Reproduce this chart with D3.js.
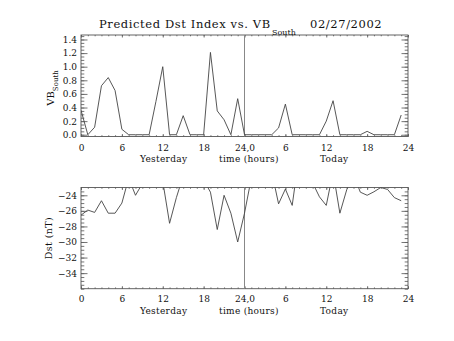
<!DOCTYPE html>
<html>
<head>
<meta charset="utf-8">
<script src="https://cdn.jsdelivr.net/npm/d3@7"></script>
<style>
  html, body { margin: 0; padding: 0; background: #fff; }
  svg { display: block; }
  text { font-family: "DejaVu Serif", serif; fill: #111; }
</style>
</head>
<body>
<script>
// ---------------- data ----------------
const hours = d3.range(0, 48);
const vbSouth = [0.36, 0.00, 0.11, 0.72, 0.84, 0.65, 0.08, 0.00, 0.00, 0.00, 0.00, 0.49,
                 1.00, 0.00, 0.00, 0.28, 0.00, 0.00, 0.00, 1.21, 0.35, 0.22, 0.00, 0.53,
                 0.00, 0.00, 0.00, 0.00, 0.00, 0.10, 0.45, 0.00, 0.00, 0.00, 0.00, 0.00,
                 0.20, 0.50, 0.00, 0.00, 0.00, 0.00, 0.05, 0.00, 0.00, 0.00, 0.00, 0.29];
const dst = [-26.55, -25.9, -26.2, -24.7, -26.3, -26.3, -25.0, -21.8, -24.0, -22.5, -21.5, -21.5,
             -22.2, -27.6, -24.3, -21.5, -21.5, -21.5, -22.0, -23.6, -28.4, -24.0, -26.3, -30.0,
             -26.3, -21.8, -21.5, -21.5, -21.0, -25.1, -23.2, -25.3, -19.0, -21.5, -22.4, -24.2,
             -25.3, -21.0, -26.3, -23.3, -21.3, -23.6, -24.0, -23.55, -23.0, -23.25, -24.3, -24.7];
const xTickValues = [0, 6, 12, 18, 24, 30, 36, 42, 48];
const xTickLabels = ["0", "6", "12", "18", "24,0", "6", "12", "18", "24"];
const vbTicks = [0.0, 0.2, 0.4, 0.6, 0.8, 1.0, 1.2, 1.4];
const dstTicks = [-34, -32, -30, -28, -26, -24];
const titleText = "Predicted Dst Index vs. VB";
const titleSub = "South";
const dateText = "02/27/2002";
const xTitleParts = ["Yesterday", "time (hours)", "Today"];

// ---------------- layout ----------------
const W = 454, H = 341;
const svg = d3.select("body").append("svg").attr("width", W).attr("height", H);

const xLeft = 81, xRight = 408;
const x = d3.scaleLinear().domain([0, 48]).range([xLeft, xRight]);

function panel(opts) {
  const y = d3.scaleLinear().domain(opts.domain).range([opts.bottom, opts.top]);
  const g = svg.append("g");
  const clipId = "clip" + opts.id;
  svg.append("clipPath").attr("id", clipId)
    .append("rect").attr("x", xLeft).attr("y", opts.top)
    .attr("width", xRight - xLeft).attr("height", opts.bottom - opts.top);

  const minorX = d3.range(0, 49, 1);
  const majLenX = 2.5, minLenX = 1.3, majLenY = 6.5, minLenY = 3.3;

  function styleAxis(sel) {
    sel.select(".domain").remove();
    sel.selectAll("line").attr("stroke", "#666").attr("stroke-width", 0.9);
    sel.selectAll("text").attr("font-family", "DejaVu Serif").attr("font-size", 9).attr("fill", "#111");
  }

  // bottom axis
  g.append("g").attr("transform", `translate(0,${opts.bottom})`)
    .call(d3.axisBottom(x).tickValues(minorX).tickSize(-minLenX).tickFormat(""))
    .call(styleAxis);
  const bx = g.append("g").attr("transform", `translate(0,${opts.bottom})`)
    .call(d3.axisBottom(x).tickValues(xTickValues).tickSize(-majLenX).tickPadding(7)
      .tickFormat((d, i) => xTickLabels[i]))
    .call(styleAxis);
  bx.selectAll("text").attr("dy", null).attr("y", opts.tickBase - opts.bottom);
  // top axis
  g.append("g").attr("transform", `translate(0,${opts.top})`)
    .call(d3.axisTop(x).tickValues(minorX).tickSize(-minLenX).tickFormat(""))
    .call(styleAxis);
  g.append("g").attr("transform", `translate(0,${opts.top})`)
    .call(d3.axisTop(x).tickValues(xTickValues).tickSize(-majLenX).tickFormat(""))
    .call(styleAxis);

  // left axis
  g.append("g").attr("transform", `translate(${xLeft},0)`)
    .call(d3.axisLeft(y).tickValues(opts.minor).tickSize(-minLenY).tickFormat(""))
    .call(styleAxis);
  g.append("g").attr("transform", `translate(${xLeft},0)`)
    .call(d3.axisLeft(y).tickValues(opts.ticks).tickSize(-majLenY).tickPadding(4)
      .tickFormat(opts.fmt))
    .call(styleAxis);
  // right axis
  g.append("g").attr("transform", `translate(${xRight},0)`)
    .call(d3.axisRight(y).tickValues(opts.minor).tickSize(-minLenY).tickFormat(""))
    .call(styleAxis);
  g.append("g").attr("transform", `translate(${xRight},0)`)
    .call(d3.axisRight(y).tickValues(opts.ticks).tickSize(-majLenY).tickFormat(""))
    .call(styleAxis);

  // box
  g.append("rect").attr("x", xLeft).attr("y", opts.top)
    .attr("width", xRight - xLeft).attr("height", opts.bottom - opts.top)
    .attr("fill", "none").attr("stroke", "#555").attr("stroke-width", 0.9);

  // midline
  g.append("line").attr("x1", x(24)).attr("x2", x(24))
    .attr("y1", opts.top).attr("y2", opts.bottom)
    .attr("stroke", "#888").attr("stroke-width", 1);

  // data
  const line = d3.line().x((d, i) => x(hours[i])).y(d => y(d));
  g.append("path").datum(opts.values)
    .attr("clip-path", `url(#${clipId})`)
    .attr("d", line).attr("fill", "none")
    .attr("stroke", "#444").attr("stroke-width", 0.9);

  // x title parts
  const starts = [140, 219, 320];
  xTitleParts.forEach((t, i) => {
    svg.append("text").attr("x", starts[i]).attr("y", opts.xTitleBase)
      .attr("font-size", 9).attr("letter-spacing", 0.3).text(t);
  });
  return y;
}

panel({
  id: "vb", top: 35, bottom: 136.5, domain: [-0.026, 1.466],
  ticks: vbTicks, minor: d3.range(0, 1.46, 0.05), fmt: d3.format(".1f"),
  values: vbSouth, tickBase: 150.5, xTitleBase: 161.5
});
panel({
  id: "dst", top: 187.5, bottom: 288.7, domain: [-36, -23],
  ticks: dstTicks, minor: d3.range(-36, -23, 0.5), fmt: d => "\u2212" + Math.abs(d),
  values: dst, tickBase: 302, xTitleBase: 314
});

// title
const title = svg.append("text").attr("x", 99).attr("y", 28)
  .attr("font-size", 11.5).attr("letter-spacing", 0.6);
title.append("tspan").text(titleText);
svg.append("text").attr("x", 272).attr("y", 35).attr("font-size", 8).text(titleSub);
svg.append("text").attr("x", 310).attr("y", 28).attr("font-size", 11.5)
  .attr("letter-spacing", 0.6).text(dateText);

// y titles
const vbLab = svg.append("text").attr("transform", "translate(53.5,88) rotate(-90)")
  .attr("text-anchor", "middle").attr("font-size", 10);
vbLab.append("tspan").text("VB");
vbLab.append("tspan").attr("dy", 4).attr("font-size", 7).text("South");

svg.append("text").attr("transform", "translate(51.5,238) rotate(-90)")
  .attr("text-anchor", "middle").attr("font-size", 9.5).attr("letter-spacing", 0.4)
  .text("Dst (nT)");
</script>
</body>
</html>
